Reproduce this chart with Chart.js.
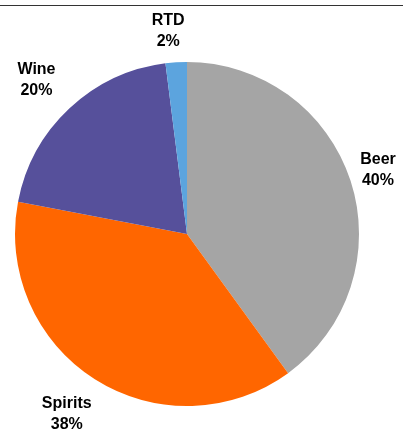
<!DOCTYPE html>
<html>
<head>
<meta charset="utf-8">
<script src="https://cdn.jsdelivr.net/npm/chart.js@4"></script>
<style>
  html, body { margin: 0; padding: 0; background: #fff; }
  #wrap { position: relative; width: 403px; height: 432px; }
  #topline { position: absolute; left: 0; top: 5px; width: 403px; height: 0; border-top: 1.5px solid #333; }
  canvas { position: absolute; left: 0; top: 0; }
</style>
</head>
<body>
<div id="wrap">
  <canvas id="pieChart" width="403" height="432"></canvas>
  <div id="topline"></div>
</div>
<script>
// drinks share
var categories = ['Beer', 'Spirits', 'Wine', 'RTD'];
var shares = [40, 38, 20, 2];
var sliceColors = ['#a5a5a5', '#ff6600', '#56509b', '#5ca4de'];

// labels drawn outside the slices, box kept a fixed gap away from the pie edge
var outsideLabels = {
  id: 'outsideLabels',
  afterDatasetsDraw(chart) {
    var ctx = chart.ctx;
    var meta = chart.getDatasetMeta(0);
    var total = shares.reduce((a, b) => a + b, 0);
    ctx.save();
    ctx.font = 'bold 16px "Liberation Sans", Arial, sans-serif';
    ctx.fillStyle = '#000';
    ctx.textAlign = 'center';
    ctx.textBaseline = 'middle';
    meta.data.forEach((arc, i) => {
      var p = arc.getProps(['x', 'y', 'startAngle', 'endAngle', 'outerRadius'], true);
      var mid = (p.startAngle + p.endAngle) / 2;
      var lines = [categories[i], Math.round(shares[i] / total * 100) + '%'];
      var hw = Math.max(...lines.map(t => ctx.measureText(t).width)) / 2;
      var hh = 18;
      var c = Math.cos(mid), s = Math.sin(mid);
      var want = p.outerRadius + 13;
      var lo = 0, hi = 400;
      for (var k = 0; k < 40; k++) {
        var t = (lo + hi) / 2;
        var dx = Math.max(Math.abs(c * t) - hw, 0);
        var dy = Math.max(Math.abs(s * t) - hh, 0);
        if (Math.sqrt(dx * dx + dy * dy) < want) lo = t; else hi = t;
      }
      var cx = p.x + c * lo - 6;   // labels sit a bit to the left in the original
      var cy = p.y + s * lo;
      ctx.fillText(lines[0], cx, cy - 10.5);
      ctx.fillText(lines[1], cx, cy + 10.5);
    });
    ctx.restore();
  }
};

var ctxP = document.getElementById('pieChart').getContext('2d');
var myPieChart = new Chart(ctxP, {
  type: 'pie',
  data: {
    labels: categories,
    datasets: [{
      data: shares,
      backgroundColor: sliceColors,
      borderWidth: 0
    }]
  },
  options: {
    responsive: false,
    animation: false,
    layout: {
      padding: { left: 15, right: 44, top: 62, bottom: 26 }
    },
    plugins: {
      legend: { display: false },
      tooltip: { enabled: false }
    }
  },
  plugins: [outsideLabels]
});
</script>
</body>
</html>
